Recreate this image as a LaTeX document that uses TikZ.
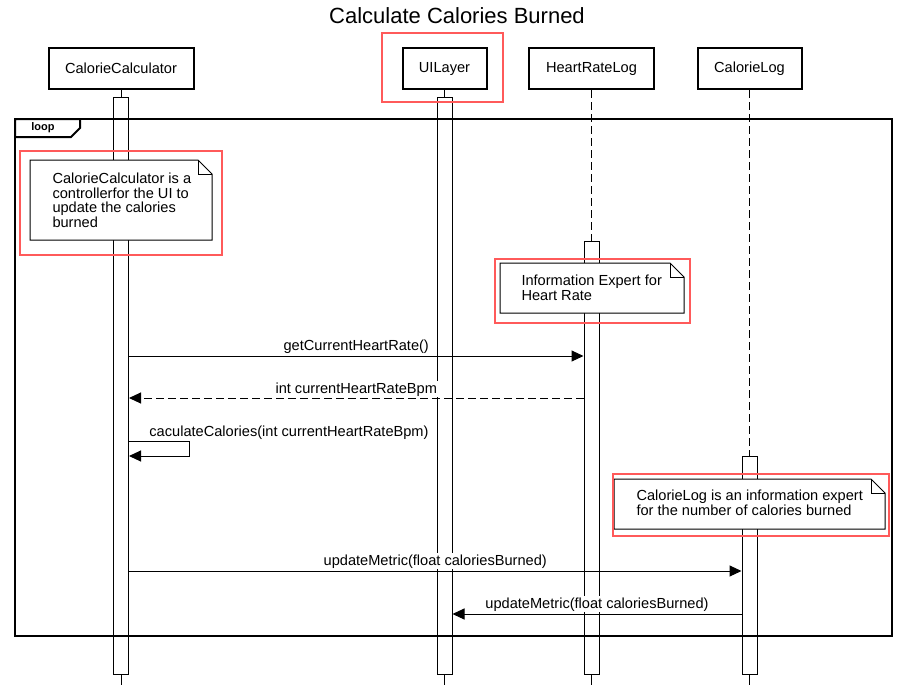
\documentclass[tikz,border=0pt]{standalone}
\usepackage{fontspec}
\setmainfont{Liberation Sans}
\usetikzlibrary{arrows.meta}
\definecolor{hlred}{RGB}{255,90,90}
\begin{document}
\begin{tikzpicture}[x=1pt,y=-1pt,line width=1pt,
    txt/.style={font=\fontsize{14.6}{14.5}\selectfont},
    actor/.style={draw,line width=2pt,fill=white,minimum height=41pt,inner sep=0pt,txt},
    act/.style={draw,fill=white,minimum width=15pt,inner sep=0pt},
    life/.style={dash pattern=on 8pt off 4pt},
    msg/.style={-{Triangle[length=12pt,width=11pt]}},
    ret/.style={msg,dash pattern=on 8pt off 4pt},
    lbl/.style={txt,fill=white,inner sep=1pt,anchor=base},
    note/.style={draw,fill=white},
    hl/.style={draw=hlred,line width=1.2pt},
    frame/.style={line width=2pt}]
  \useasboundingbox (0,0) rectangle (914,689);
  \node[font=\fontsize{22}{22}\selectfont,anchor=base] (title) at (457,23) {Calculate Calories Burned};

  \foreach \n/\x/\w/\t in {calc/121/145/CalorieCalculator, ui/444.5/84/UILayer, hr/591.5/125/HeartRateLog, log/749.5/104/CalorieLog}{
    \node[actor,minimum width=\w pt] (\n) at (\x,68.5) {\t};
    \coordinate (\n-e) at (\x,685);
  }
  \foreach \n/\x/\ya/\yb in {calc/121/97/674, ui/444.5/97/674, hr/591.5/241/674, log/749.5/456/674}{
    \node[act,minimum height={\yb-\ya}] (\n-a) at (\x,{(\ya+\yb)/2}) {};
    \draw (\n-a) -- (\n-e);
  }
  \draw (calc) -- (calc-a);
  \draw (ui) -- (ui-a);
  \draw[life] (hr) -- (hr-a);
  \draw[life] (log) -- (log-a);

  \draw[frame] (15,119) rectangle (892,636);
  \draw[frame,fill=white] (15,119) -- (80,119) -- (80,128) -- (71,137) -- (15,137) -- cycle;
  \node[font=\fontsize{11}{11}\selectfont\bfseries] (loop) at (43,128) {loop};

  \foreach \n/\xa/\ya/\xb/\yb in {n1/30/160/212/240, n2/500/263/684/313, n3/614/479/885/529}{
    \draw[note] (\xa,\ya) -- ({\xb-14},\ya) -- (\xb,{\ya+14}) -- (\xb,\yb) -- (\xa,\yb) -- cycle;
    \draw ({\xb-14},\ya) -- ({\xb-14},{\ya+14}) -- (\xb,{\ya+14});
  }
  \foreach \xa/\ya/\xb/\yb in {382/33/503/102, 20/151/222/255, 495/259/690/323, 613/474/889/536}
    \draw[hl] (\xa,\ya) rectangle (\xb,\yb);

  \node[txt,align=left,anchor=north west,inner sep=0pt] (t1) at (52,172.5) {CalorieCalculator is a\\controllerfor the UI to\\update the calories\\burned};
  \node[txt,align=left,anchor=north west,inner sep=0pt] (t2) at (521,274.5) {Information Expert for\\Heart Rate};
  \node[txt,align=left,anchor=north west,inner sep=0pt] (t3) at (636,489.5) {CalorieLog is an information expert\\for the number of calories burned};

  \foreach \i/\y in {1/356, 2/398, 3/441, 4/456, 5/571, 6/614}
    \coordinate (r\i) at (0,\y);
  \draw[msg] (calc-a.east |- r1) -- (hr-a.west |- r1) node[lbl,midway,yshift=6pt] {getCurrentHeartRate()};
  \draw[ret] (hr-a.west |- r2) -- (calc-a.east |- r2) node[lbl,midway,yshift=5pt] {int currentHeartRateBpm};
  \draw[msg] (calc-a.east |- r3) -- ++(60,0) -- ++(0,15) -- (calc-a.east |- r4);
  \node[lbl] (self) at (289,436) {caculateCalories(int currentHeartRateBpm)};
  \draw[msg] (calc-a.east |- r5) -- (log-a.west |- r5) node[lbl,midway,yshift=6pt] {updateMetric(float caloriesBurned)};
  \draw[msg] (log-a.west |- r6) -- (ui-a.east |- r6) node[lbl,midway,yshift=6pt] {updateMetric(float caloriesBurned)};
\end{tikzpicture}
\end{document}
